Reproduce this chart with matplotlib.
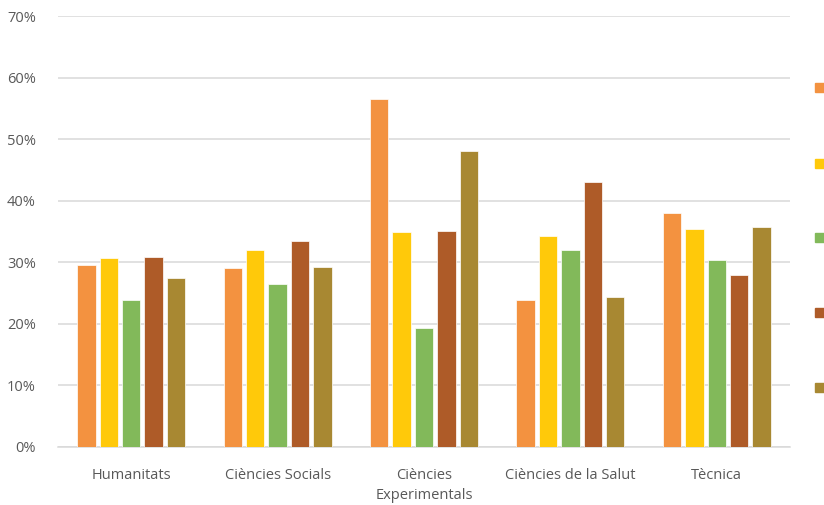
import matplotlib
matplotlib.use("Agg")
import matplotlib.pyplot as plt
import numpy as np
from matplotlib.patches import Rectangle

categories = ["Humanitats", "Ciències Socials", "Ciències\nExperimentals", "Ciències de la Salut", "Tècnica"]
series_a = [29.5, 29.1, 56.6, 23.8, 38.0]
series_b = [30.7, 32.0, 35.0, 34.3, 35.4]
series_c = [23.8, 26.5, 19.3, 32.0, 30.4]
series_d = [30.9, 33.4, 35.1, 43.1, 28.0]
series_e = [27.5, 29.2, 48.0, 24.4, 35.7]
yticks = [0, 10, 20, 30, 40, 50, 60, 70]

series = [series_a, series_b, series_c, series_d, series_e]
colors = ["#F39240", "#FFC90A", "#82B95A", "#AE5B28", "#A88832"]

plt.rcParams['font.family'] = ['Open Sans', 'DejaVu Sans']
fig = plt.figure(figsize=(8.24, 5.05), dpi=100)
W, H = 824, 505
ax = fig.add_axes([58 / W, 1 - 447 / H, (790 - 58) / W, (447 - 16) / H])

x = np.arange(len(categories))
step = 0.153
width = 0.125
for i, (vals, c) in enumerate(zip(series, colors)):
    ax.bar(x + (i - 2) * step, vals, width=width, color=c, edgecolor="white", linewidth=0.5, zorder=3)

ax.set_xlim(-0.5, len(categories) - 0.5)
ax.set_ylim(0, 70)
ax.set_yticks(yticks)
ax.set_yticklabels([f"{v}%" for v in yticks])
ax.set_xticks(x)
ax.set_xticklabels(categories)
ax.grid(axis="y", color="#d9d9d9", linewidth=1.1, zorder=0)
for s in ["top", "right", "left"]:
    ax.spines[s].set_visible(False)
ax.spines["bottom"].set_color("#d9d9d9")
ax.spines["bottom"].set_linewidth(1.1)
ax.tick_params(axis="both", length=0, labelsize=10.5, colors="#595959")
ax.tick_params(axis="y", pad=16)
ax.tick_params(axis="x", pad=15)
for lab in ax.get_xticklabels():
    lab.set_linespacing(1.45)

legend_y = [88, 163, 237, 312, 387]
for yy, c in zip(legend_y, colors):
    fig.add_artist(Rectangle((815 / W, 1 - (yy + 4.5) / H), 9 / W, 9 / H,
                             transform=fig.transFigure, color=c))

fig.savefig("out.png", dpi=100)
